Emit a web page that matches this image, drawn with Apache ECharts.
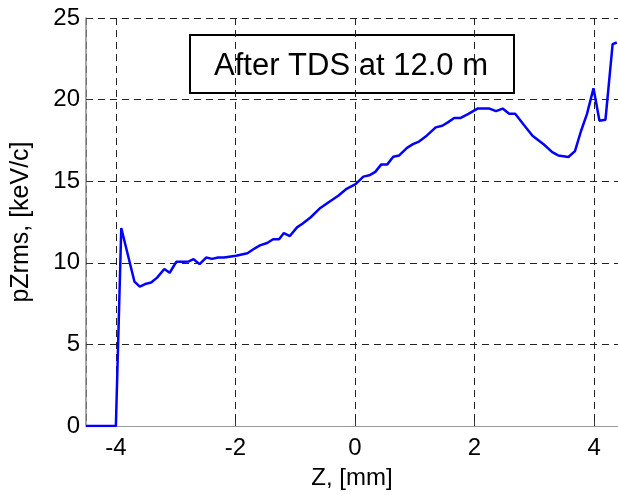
<!DOCTYPE html>
<html>
<head>
<meta charset="utf-8">
<title>pZrms after TDS</title>
<script src="https://cdn.jsdelivr.net/npm/echarts@6/dist/echarts.min.js"></script>
<style>
  html, body { margin: 0; padding: 0; background: #fff; }
  #chart { width: 618px; height: 495px; }
</style>
</head>
<body>
<div id="chart"></div>
<script>
// Longitudinal position along the bunch, mm
const zMm = [
  -4.5, -4.0, -3.91, -3.69, -3.60, -3.51, -3.41, -3.31, -3.19, -3.10,
  -2.99, -2.88, -2.78, -2.70, -2.60, -2.49, -2.39, -2.29, -2.19, -1.99,
  -1.80, -1.70, -1.59, -1.47, -1.37, -1.27, -1.19, -1.09, -0.97, -0.88,
  -0.74, -0.58, -0.41, -0.28, -0.15, 0.01, 0.14, 0.24, 0.34, 0.44,
  0.54, 0.64, 0.74, 0.87, 0.97, 1.07, 1.20, 1.35, 1.46, 1.56,
  1.66, 1.76, 1.89, 2.05, 2.25, 2.36, 2.47, 2.58, 2.68, 2.81,
  2.97, 3.16, 3.30, 3.40, 3.57, 3.68, 3.78, 3.88, 3.99, 4.09,
  4.19, 4.31, 4.38
];

// RMS longitudinal momentum spread, keV/c
const pzRms = [
  0, 0, 12.13, 8.85, 8.54, 8.70, 8.79, 9.09, 9.62, 9.39,
  10.06, 10.06, 10.08, 10.22, 9.92, 10.32, 10.24, 10.32, 10.32, 10.43,
  10.59, 10.83, 11.07, 11.21, 11.44, 11.44, 11.82, 11.64, 12.17, 12.39,
  12.79, 13.36, 13.79, 14.11, 14.51, 14.82, 15.28, 15.36, 15.57, 16.03,
  16.03, 16.50, 16.58, 17.04, 17.27, 17.43, 17.79, 18.30, 18.40, 18.62,
  18.87, 18.87, 19.11, 19.45, 19.45, 19.29, 19.45, 19.13, 19.13, 18.52,
  17.79, 17.25, 16.78, 16.58, 16.48, 16.84, 18.06, 19.11, 20.69, 18.70,
  18.76, 23.40, 23.50
];

const xTickLabels = ['-4', '-2', '0', '2', '4'];
const yTickLabels = ['0', '5', '10', '15', '20', '25'];

const chart = echarts.init(document.getElementById('chart'), null, { renderer: 'canvas' });

const fontFam = '"Liberation Sans", Arial, Helvetica, sans-serif';
const gridDash = { color: '#222', width: 1, type: [7, 5] };

chart.setOption({
  animation: false,
  backgroundColor: '#fff',
  grid: { left: 86, right: 0, top: 18, bottom: 66, containLabel: false },
  xAxis: {
    type: 'value',
    min: -4.5,
    max: 4.4,
    minInterval: 2,
    maxInterval: 2,
    name: 'Z, [mm]',
    nameLocation: 'middle',
    nameGap: 40,
    nameTextStyle: { color: '#000', fontSize: 24, fontFamily: fontFam },
    axisLine: { show: true, onZero: false, lineStyle: { color: '#9a9a9a', width: 1 } },
    axisTick: { show: true, inside: true, length: 5, lineStyle: { color: '#333' } },
    axisLabel: {
      color: '#000', fontSize: 24, fontFamily: fontFam, margin: 10,
      showMinLabel: false, showMaxLabel: false,
      formatter: v => {
        const s = String(Math.round(v));
        return xTickLabels.includes(s) ? s : '';
      }
    },
    splitLine: { show: true, lineStyle: gridDash }
  },
  yAxis: {
    type: 'value',
    min: 0,
    max: 25,
    interval: 5,
    name: 'pZrms, [keV/c]',
    nameLocation: 'middle',
    nameGap: 52,
    nameTextStyle: { color: '#000', fontSize: 25, fontFamily: fontFam },
    axisLine: { show: true, onZero: false, lineStyle: { color: '#8a8a8a', width: 1.5 } },
    axisTick: { show: true, inside: true, length: 5, lineStyle: { color: '#333' } },
    axisLabel: {
      color: '#000', fontSize: 24, fontFamily: fontFam, margin: 6,
      formatter: v => yTickLabels[Math.round(v / 5)]
    },
    splitLine: { show: true, lineStyle: gridDash }
  },
  series: [{
    type: 'line',
    data: zMm.map((z, i) => [z, pzRms[i]]),
    showSymbol: false,
    symbol: 'none',
    lineStyle: { color: '#0000ff', width: 2.5 },
    clip: true,
    z: 3
  }],
  graphic: [{
    type: 'group',
    left: 189,
    top: 34,
    z: 10,
    children: [
      {
        type: 'rect',
        shape: { x: 0, y: 0, width: 324, height: 58 },
        style: { fill: '#fff', stroke: '#000', lineWidth: 2 }
      },
      {
        type: 'text',
        x: 161,
        y: 31,
        style: {
          text: 'After TDS at 12.0 m',
          fill: '#000',
          font: '31px ' + fontFam,
          textAlign: 'center',
          textVerticalAlign: 'middle'
        }
      }
    ]
  }]
});
</script>
</body>
</html>
